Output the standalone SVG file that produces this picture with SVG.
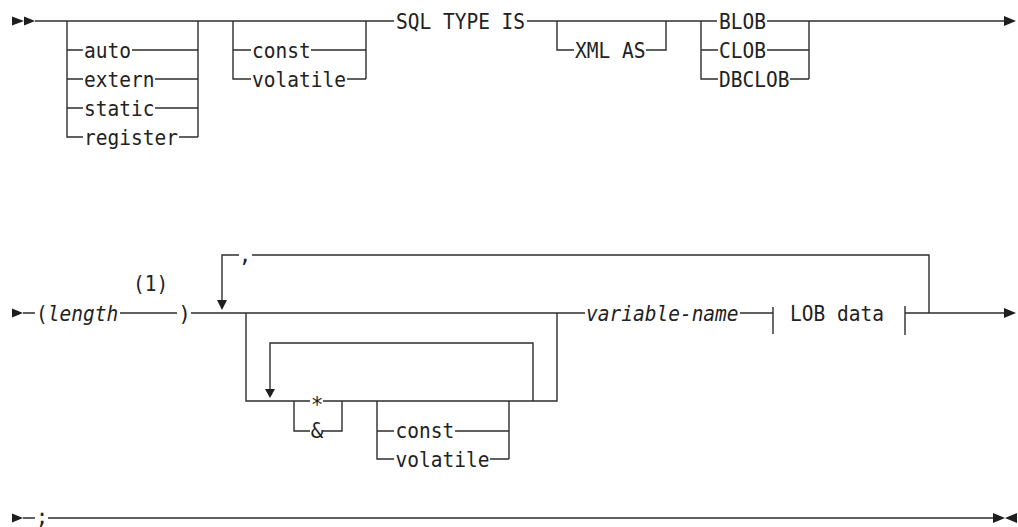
<svg xmlns="http://www.w3.org/2000/svg" width="1018" height="527" viewBox="0 0 1018 527">
<style>
.c{fill:none;stroke:#2e2e2e;stroke-width:1.4}
.a{fill:#1e1e1e;stroke:none}
.t{font-family:"DejaVu Sans Mono","Liberation Mono",monospace;font-size:21px;fill:#222}
.i{font-style:italic}
.m{text-anchor:middle}
</style>
<rect width="1018" height="527" fill="#fff"/>
<g id="connectors">
<!-- row 1 -->
<path class="c" d="M35,21 H394"/>
<path class="c" d="M67,21 V137 H83 M67,50 H83 M67,79 H83 M67,108 H83 M132,50 H198 M155,79 H198 M155,108 H198 M179,137 H198 M198,21 V137"/>
<path class="c" d="M233,21 V79 H251 M233,50 H251 M311,50 H366 M347,79 H366 M366,21 V79"/>
<path class="c" d="M527,21 H717"/>
<path class="c" d="M557,21 V50 H574 M646,50 H666 V21"/>
<path class="c" d="M701,21 V79 H718 M701,50 H718 M767,50 H809 M790,79 H809 M809,21 V79"/>
<path class="c" d="M767,21 H1004"/>
<polygon class="a" points="12,16.5 24,21 12,25.5"/>
<polygon class="a" points="24,16.5 35,21 24,25.5"/>
<polygon class="a" points="1004,16 1016,21 1004,26"/>
<!-- row 2 -->
<path class="c" d="M23,313 H35 M120,313 H177 M191,313 H585"/>
<path class="c" d="M929,313 V255 H252 M239,255 H222 V300"/>
<path class="c" d="M246,313 V401 H310 M323,401 H557 V313"/>
<path class="c" d="M294,401 V431 H310 M323,431 H342 V401"/>
<path class="c" d="M377,401 V459 H394 M377,431 H394 M455,431 H509 M490,459 H509 M509,401 V459"/>
<path class="c" d="M533,401 V343 H270 V389"/>
<path class="c" d="M740,313 H773 M773,307 V334 M905,306 V335 M905,313 H1004"/>
<polygon class="a" points="12,308.5 23,313 12,317.5"/>
<polygon class="a" points="217,300 227,300 222,310"/>
<polygon class="a" points="265,389 275,389 270,398"/>
<polygon class="a" points="1004,308 1016,313 1004,318"/>
<!-- row 3 -->
<path class="c" d="M23,518 H35 M48,518 H993"/>
<polygon class="a" points="12,513.5 23,518 12,522.5"/>
<polygon class="a" points="993,513 1005,518 993,523"/>
<polygon class="a" points="1017,513 1005,518 1017,523"/>
</g>
<g id="n-storage">
<text class="t" x="84" y="57.5" textLength="47" lengthAdjust="spacingAndGlyphs">auto</text>
<text class="t" x="84" y="86.5" textLength="70.4" lengthAdjust="spacingAndGlyphs">extern</text>
<text class="t" x="84" y="115.5" textLength="70.4" lengthAdjust="spacingAndGlyphs">static</text>
<text class="t" x="84" y="144.5" textLength="93.9" lengthAdjust="spacingAndGlyphs">register</text>
</g>
<g id="n-qualifier1">
<text class="t" x="252" y="57.5" textLength="58.7" lengthAdjust="spacingAndGlyphs">const</text>
<text class="t" x="252" y="86.5" textLength="93.9" lengthAdjust="spacingAndGlyphs">volatile</text>
</g>
<g id="n-sqltype"><text class="t" x="396" y="28.5" textLength="129.1" lengthAdjust="spacingAndGlyphs">SQL TYPE IS</text></g>
<g id="n-xmlas"><text class="t" x="575" y="57.5" textLength="70.4" lengthAdjust="spacingAndGlyphs">XML AS</text></g>
<g id="n-lobtype">
<text class="t" x="719" y="28.5" textLength="47" lengthAdjust="spacingAndGlyphs">BLOB</text>
<text class="t" x="719" y="57.5" textLength="47" lengthAdjust="spacingAndGlyphs">CLOB</text>
<text class="t" x="719" y="86.5" textLength="70.4" lengthAdjust="spacingAndGlyphs">DBCLOB</text>
</g>
<g id="n-length">
<text class="t" x="36" y="320.5" textLength="82.2" lengthAdjust="spacingAndGlyphs">(<tspan class="i">length</tspan></text>
<text class="t" x="133" y="290.5" textLength="35.2" lengthAdjust="spacingAndGlyphs">(1)</text>
<text class="t m" x="184.5" y="320.5">)</text>
</g>
<g id="n-comma"><text class="t m" x="245" y="262">,</text></g>
<g id="n-pointer">
<text class="t m" x="317" y="412">*</text>
<text class="t m" x="317" y="437.5">&amp;</text>
</g>
<g id="n-qualifier2">
<text class="t" x="395.5" y="437.5" textLength="58.7" lengthAdjust="spacingAndGlyphs">const</text>
<text class="t" x="395.5" y="466.5" textLength="93.9" lengthAdjust="spacingAndGlyphs">volatile</text>
</g>
<g id="n-varname"><text class="t i" x="586" y="320.5" textLength="152.6" lengthAdjust="spacingAndGlyphs">variable-name</text></g>
<g id="n-lobdata"><text class="t" x="790" y="320.5" textLength="93.9" lengthAdjust="spacingAndGlyphs">LOB data</text></g>
<g id="n-semicolon"><text class="t m" x="42" y="524">;</text></g>
</svg>
